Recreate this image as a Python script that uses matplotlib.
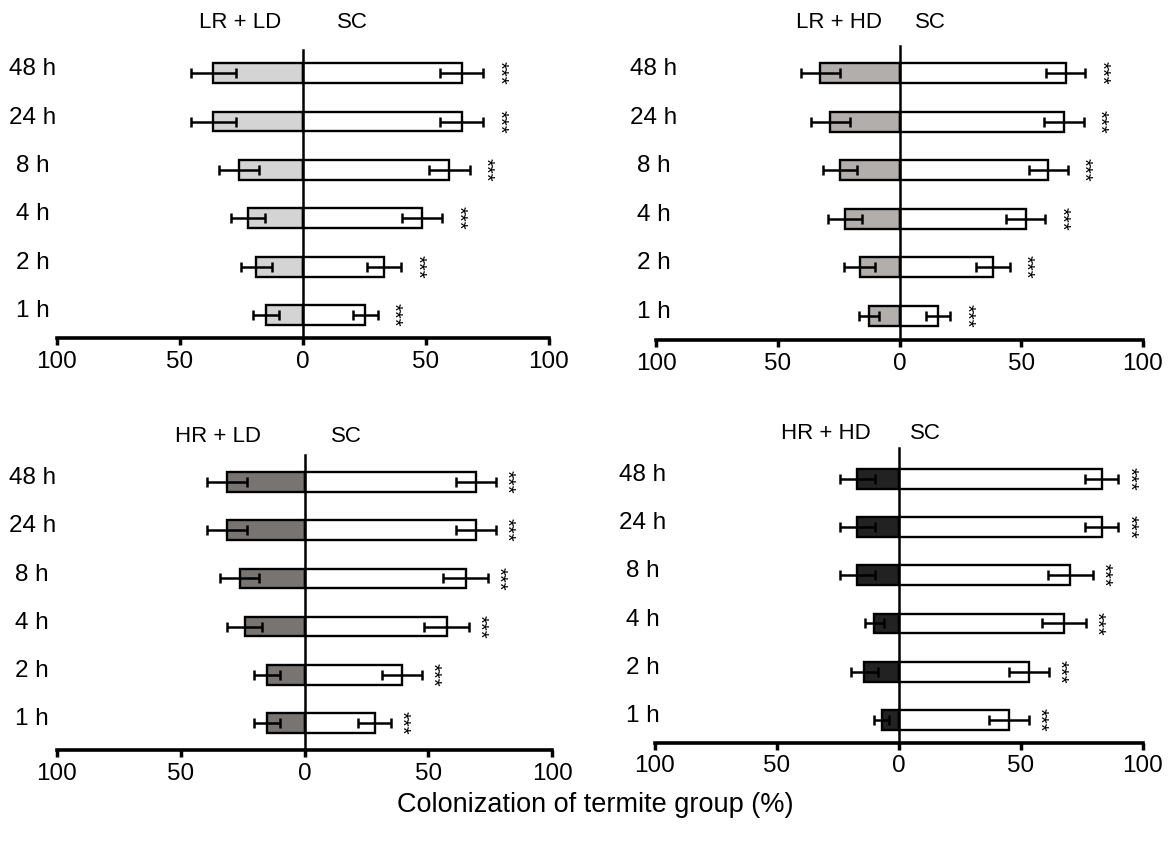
import matplotlib.pyplot as plt
from matplotlib.ticker import FuncFormatter

plt.rcParams['font.family'] = ['Liberation Sans', 'DejaVu Sans']

times = ['1 h', '2 h', '4 h', '8 h', '24 h', '48 h']

# LR + LD
lrld = [15, 19, 22.3, 26, 36.4, 36.4]
lrld_err = [5.2, 6.2, 7, 8, 9, 9]
lrld_sc = [25.3, 33, 48.5, 59.5, 64.5, 64.5]
lrld_sc_err = [5.1, 7, 8.1, 8.2, 8.8, 8.8]

# LR + HD
lrhd = [12.4, 16.4, 22.5, 24.5, 28.5, 32.5]
lrhd_err = [4.1, 6.3, 7, 7.1, 8, 7.9]
lrhd_sc = [15.8, 38.3, 51.8, 61, 67.5, 68.3]
lrhd_sc_err = [5.1, 6.9, 8, 8, 8.1, 8]

# HR + LD
hrld = [15.2, 15.2, 24.2, 26.2, 31.3, 31.3]
hrld_err = [5.1, 5.1, 7.2, 8, 7.9, 7.9]
hrld_sc = [28.3, 39.4, 57.4, 65.1, 69.2, 69.2]
hrld_sc_err = [6.8, 8.1, 9.2, 9.2, 8, 8]

# HR + HD
hrhd = [7, 14.2, 10.2, 17.1, 17.1, 17.1]
hrhd_err = [3.1, 5.4, 3.9, 7.1, 7.1, 7.1]
hrhd_sc = [45.1, 53.4, 67.6, 70.2, 83, 83]
hrhd_sc_err = [8.2, 8.2, 9.1, 9.2, 6.9, 6.9]

W, H = 1170, 850
fig = plt.figure(figsize=(11.7, 8.5), dpi=100)


def panel(px, treat, terr, sc, scerr, color, name, name_x, sc_x, lab_x, star_off, ylim, head_y):
    l, r, b, t = px
    ax = fig.add_axes([l / W, 1 - b / H, (r - l) / W, (b - t) / H])
    y = list(range(len(times)))
    neg = [-v for v in treat]
    ax.barh(y, neg, height=0.41, color=color, edgecolor='black', linewidth=1.7)
    ax.barh(y, sc, height=0.41, color='white', edgecolor='black', linewidth=1.7)
    ax.errorbar(neg, y, xerr=terr, fmt='none', ecolor='black', elinewidth=1.8, capsize=3.8, capthick=1.8)
    ax.errorbar(sc, y, xerr=scerr, fmt='none', ecolor='black', elinewidth=1.8, capsize=3.8, capthick=1.8)
    for i in y:
        ax.text(sc[i] + scerr[i] + star_off, i, '***', rotation=270, fontsize=14.5,
                ha='center', va='center')
        ax.text(lab_x, i + 0.08, times[i], fontsize=17.5, ha='center', va='center', clip_on=False)
    ax.set_xlim(-100, 100)
    ax.set_ylim(*ylim)
    ax.set_xticks([-100, -50, 0, 50, 100])
    ax.xaxis.set_major_formatter(FuncFormatter(lambda v, p: '%d' % abs(v)))
    ax.tick_params(axis='x', labelsize=17.5, width=2.5, length=5, pad=4)
    ax.set_yticks([])
    ax.spines['top'].set_visible(False)
    ax.spines['right'].set_visible(False)
    ax.spines['left'].set_position(('data', 0))
    ax.spines['left'].set_linewidth(1.8)
    ax.spines['bottom'].set_linewidth(2.6)
    ax.text(name_x, head_y, name, fontsize=16, ha='center', va='center', clip_on=False)
    ax.text(sc_x, head_y, 'SC', fontsize=16, ha='center', va='center', clip_on=False)
    return ax


panel((57, 549, 338, 50), lrld, lrld_err, lrld_sc, lrld_sc_err, '#d4d4d4',
      'LR + LD', -25.6, 20, -110, 6.5, (-0.476, 5.48), 6.05)
panel((656, 1143, 340, 46), lrhd, lrhd_err, lrhd_sc, lrhd_sc_err, '#b1aeab',
      'LR + HD', -24.7, 12.8, -101, 6.5, (-0.5, 5.56), 6.05)
panel((57, 552, 750, 455), hrld, hrld_err, hrld_sc, hrld_sc_err, '#787472',
      'HR + LD', -35, 17, -110, 4.2, (-0.56, 5.56), 5.95)
panel((655, 1143, 743, 448), hrhd, hrhd_err, hrhd_sc, hrhd_sc_err, '#222222',
      'HR + HD', -30, 11, -105, 4.3, (-0.48, 5.64), 5.95)

fig.text(595 / W, 1 - 805 / H, 'Colonization of termite group (%)', fontsize=19.5,
         ha='center', va='center')

fig.savefig('out.png', dpi=100)
